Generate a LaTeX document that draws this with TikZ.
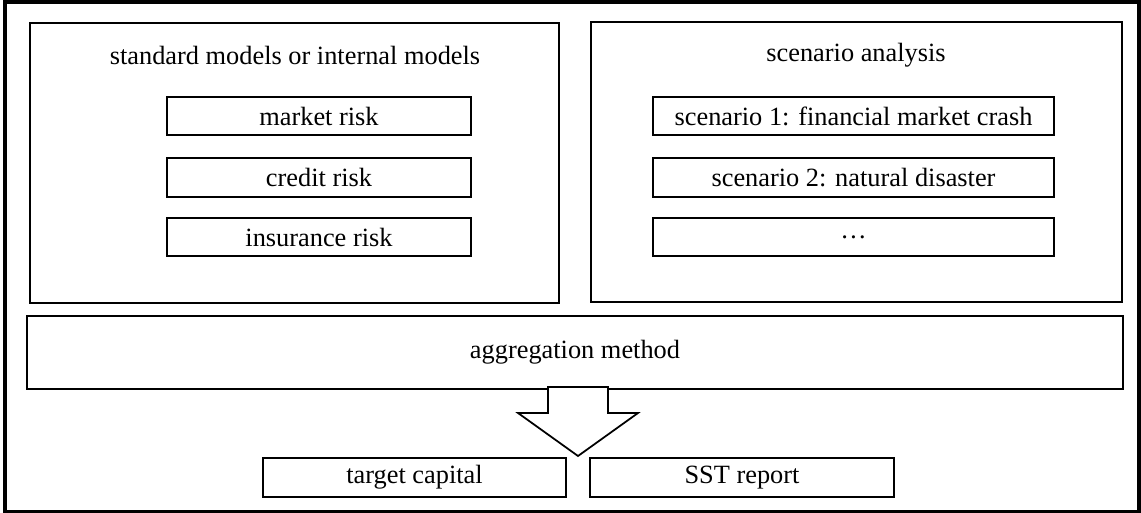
\documentclass[tikz,border=0pt]{standalone}
\usepackage{fontspec}
\setmainfont{Liberation Serif}
\usetikzlibrary{positioning}

\tikzset{
  box/.style={draw, line width=1pt, rectangle, inner sep=0pt},
  group/.style={box, minimum height=5.6cm},
  item/.style={box, minimum height=0.77cm},
  label/.style={inner sep=0pt}
}

\begin{document}
\begin{tikzpicture}[x=0.02cm, y=-0.02cm, font=\fontsize{15pt}{18pt}\selectfont]

        \useasboundingbox (0, 0) rectangle (1141, 513);
        \draw [line width=2.3pt] (5, 2) rectangle (1139, 512);

        % the two groups
        \node [group, minimum width=10.58cm] (models) at (294.5, 163) {};
        \node [group, minimum width=10.62cm] (scen) at (856.5, 162) {};

        \node [label] (modtitle) at (295, 55) {standard models or internal models};
        \node [label] (scentitle) at (856, 55) {scenario analysis};

        \node [item, minimum width=6.08cm] (market) at (319, 116) {market risk};
        \node [item, minimum width=6.08cm] (credit) at (319, 177.5) {credit risk};
        \node [item, minimum width=6.08cm] (insur) at (319, 237) {insurance risk};

        \node [item, minimum width=8.02cm] (scen1) at (853.5, 116) {scenario 1: financial market crash};
        \node [item, minimum width=8.02cm] (scen2) at (853.5, 177.5) {scenario 2: natural disaster};
        \node [item, minimum width=8.02cm] (scen3) at (853.5, 237) {\dots};

        \node [box, minimum width=21.92cm, minimum height=1.45cm] (agg) at (575, 352.5) {aggregation method};

        \node [item, minimum width=6.06cm] (target) at (414.5, 477.5) {target capital};
        \node [item, minimum width=6.08cm] (sst) at (742, 477.5) {SST report};

        % block arrow
        \coordinate (tip) at (578, 456);
        \draw [line width=1pt, fill=white]
        (548, 387) -- (608, 387) -- (608, 413) -- (638, 413)
        -- (tip) -- (518, 413) -- (548, 413) -- cycle;

\end{tikzpicture}
\end{document}
